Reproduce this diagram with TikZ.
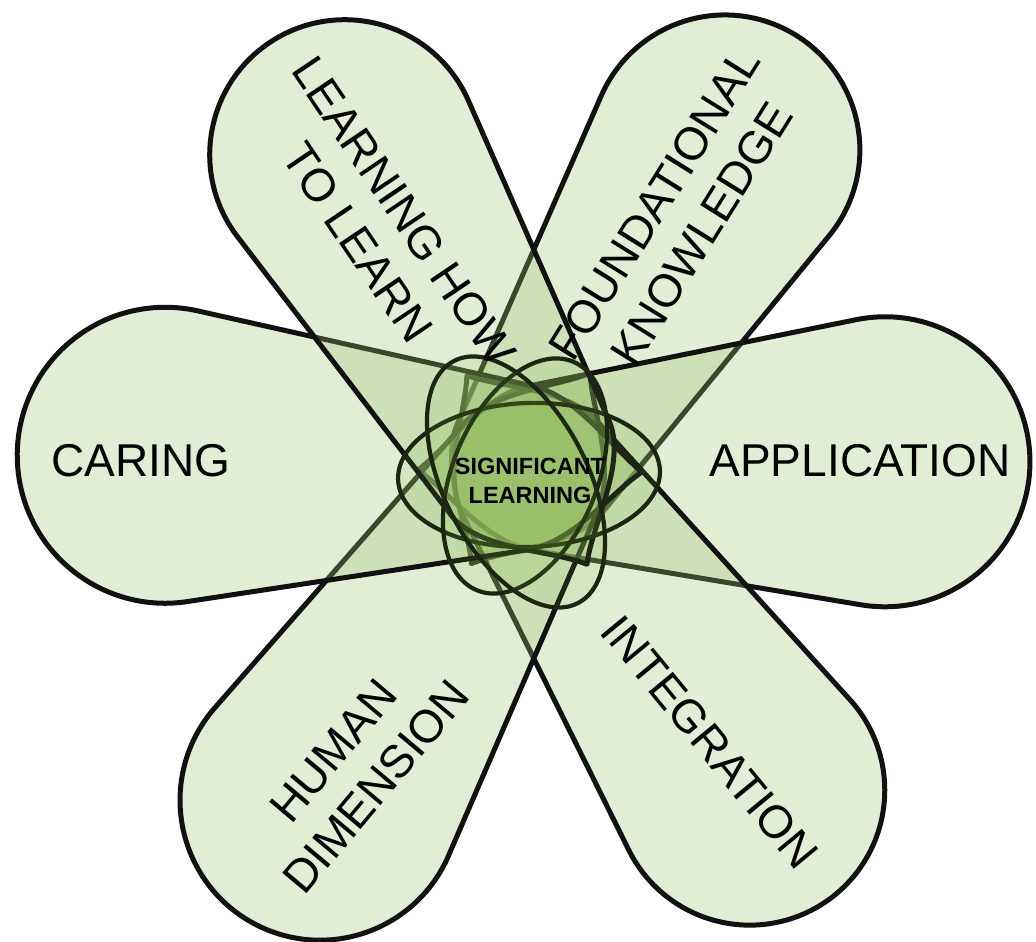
\documentclass[tikz,border=0pt]{standalone}
\usepackage{fontspec}
\setmainfont{Liberation Sans}
\definecolor{petalfill}{RGB}{158,195,115}
\definecolor{ellfill}{RGB}{125,178,58}
\definecolor{edge}{RGB}{17,17,17}
\definecolor{elledge}{RGB}{28,38,18}
\tikzset{
  petal/.style={draw=edge, line width=5pt, fill=petalfill, fill opacity=0.3, line join=round},
  ell/.style={draw=elledge, line width=4.2pt, fill=ellfill, fill opacity=0.13},
  lbl/.style={font=\fontsize{46}{56}\selectfont, align=center, text=black, inner sep=0pt},
  clbl/.style={font=\fontsize{23.5}{29}\selectfont\bfseries, align=center, text=black, inner sep=0pt},
}
% angle, D, R, w0, T
\newcommand{\drawpetal}[5]{%
  \pgfmathsetmacro{\petL}{100*sqrt((#2/100)^2+(#4/100)^2)}%
  \pgfmathsetmacro{\petPh}{180-atan(#4/#2)-acos(#3/\petL)}%
  \pgfmathsetmacro{\petAx}{#2+#3*cos(\petPh)}%
  \pgfmathsetmacro{\petAy}{#3*sin(\petPh)}%
  \pgfmathsetmacro{\petS}{(\petAy-#4)/\petAx}%
  \begin{scope}[shift={(530,474)}, rotate=#1]
    \path[petal] (-#5,0) .. controls ({-#5+30},22) and (-45,{#4-45*\petS}) .. (0,#4)
      -- (\petAx,\petAy) arc[start angle=\petPh, end angle=-\petPh, radius=#3pt]
      -- (0,-#4) .. controls (-45,{-#4+45*\petS}) and ({-#5+30},-22) .. cycle;
  \end{scope}%
}
\begin{document}
\begin{tikzpicture}[x=1pt,y=1pt]
\useasboundingbox (0,0) rectangle (1036,942);
% petals (drawing order matters)
\drawpetal{58.5}{373}{135}{85}{112}   % foundational knowledge
\drawpetal{1}{355}{145}{82}{112}      % application
\drawpetal{-55.7}{390}{135}{82}{112}  % integration
\drawpetal{237.7}{393}{140}{80}{112}  % human dimension
\drawpetal{178}{365}{148}{82}{112}    % caring
\drawpetal{120.6}{364}{135}{92}{112}  % learning how to learn
% centre ellipses
\draw[ell, rotate around={2:(529,467)}] (529,467) ellipse [x radius=131pt, y radius=72pt];
\draw[ell, rotate around={67:(525,466)}] (525,466) ellipse [x radius=124pt, y radius=72pt];
\draw[ell, rotate around={-63:(516,460)}] (516,460) ellipse [x radius=136pt, y radius=72pt];
% labels
\node[lbl] (caring) at (141,481) {CARING};
\node[lbl] (application) at (860,481) {APPLICATION};
\node[lbl, rotate=-56] (lhtl) at (381,715) {LEARNING HOW\\TO LEARN};
\node[lbl, rotate=58] (fk) at (678,723) {FOUNDATIONAL\\KNOWLEDGE};
\node[lbl, rotate=50] (hd) at (355,173) {HUMAN\\DIMENSION};
\node[lbl, rotate=-50.5] (integ) at (710,200) {INTEGRATION};
\node[clbl] (sig) at (530,461) {SIGNIFICANT\\LEARNING};
\end{tikzpicture}
\end{document}
